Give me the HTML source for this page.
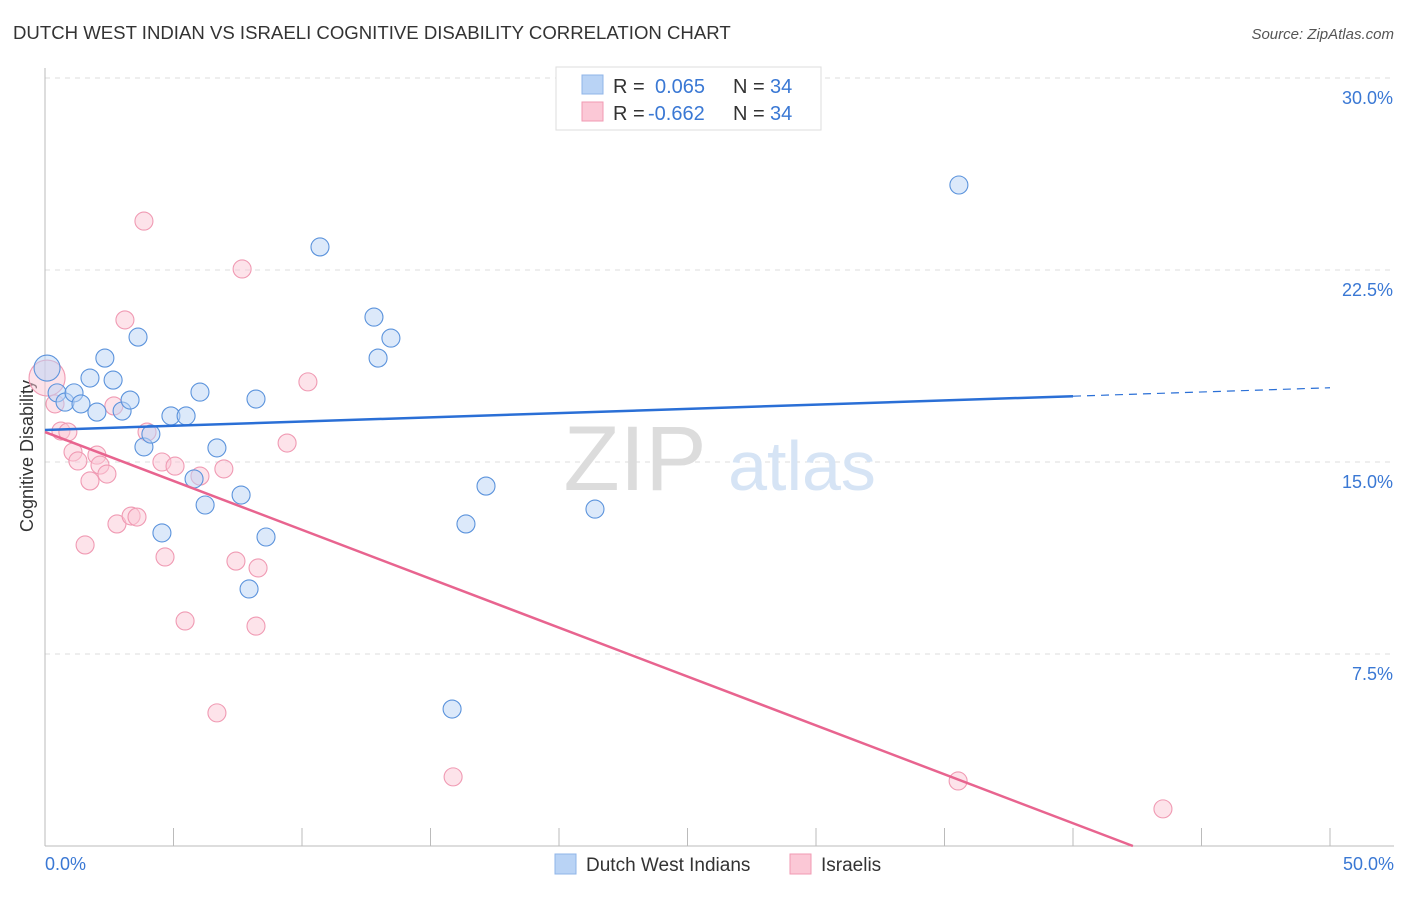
<!DOCTYPE html>
<html><head><meta charset="utf-8"><style>
body{margin:0;background:#fff;font-family:"Liberation Sans",sans-serif;}
svg text{font-family:"Liberation Sans",sans-serif;}
</style></head><body>
<svg id="chart" width="1406" height="892" viewBox="0 0 1406 892" xmlns="http://www.w3.org/2000/svg">
<text x="13" y="39" font-size="18.6" fill="#333">DUTCH WEST INDIAN VS ISRAELI COGNITIVE DISABILITY CORRELATION CHART</text>
<text x="1394" y="39" font-size="15" fill="#555" font-style="italic" text-anchor="end">Source: ZipAtlas.com</text>
<g id="grid"></g>
<g>
<text x="635" y="490" font-size="92" fill="#dcdcdc" font-family="Liberation Serif, serif" text-anchor="middle">ZIP</text>
<text x="802" y="490" font-size="70" fill="#d6e4f5" text-anchor="middle">atlas</text>
</g>
<text transform="translate(33,456) rotate(-90)" font-size="18" fill="#333" text-anchor="middle">Cognitive Disability</text>
<g id="marks"></g>
<g>
<rect x="556" y="67" width="265" height="63" fill="#fff" stroke="#ddd"/>
<rect x="582" y="75" width="21" height="19" fill="#b9d3f5" stroke="#8fb4e8"/>
<rect x="582" y="102" width="21" height="19" fill="#fbc8d6" stroke="#f09ab3"/>
<text x="613" y="93" font-size="20" fill="#333">R =</text><text x="655" y="93" font-size="20" fill="#3a78d4">0.065</text>
<text x="733" y="93" font-size="20" fill="#333">N =</text><text x="770" y="93" font-size="20" fill="#3a78d4">34</text>
<text x="613" y="120" font-size="20" fill="#333">R =</text><text x="648" y="120" font-size="20" fill="#3a78d4">-0.662</text>
<text x="733" y="120" font-size="20" fill="#333">N =</text><text x="770" y="120" font-size="20" fill="#3a78d4">34</text>
</g>
<g>
<rect x="555" y="854" width="21" height="20" fill="#b9d3f5" stroke="#8fb4e8"/>
<text x="586" y="871" font-size="19" fill="#333">Dutch West Indians</text>
<rect x="790" y="854" width="21" height="20" fill="#fbc8d6" stroke="#f09ab3"/>
<text x="821" y="871" font-size="19" fill="#333">Israelis</text>
</g>
</svg>
<script>
const yTicks=[7.5,15,22.5,30];
const yTickLabels=["7.5%","15.0%","22.5%","30.0%"];
const xTickLabels=["0.0%","50.0%"];
const blueX=[0.08,0.47,0.78,1.13,1.40,1.75,2.02,2.33,2.65,3.00,3.31,3.62,3.85,4.12,4.55,4.90,5.49,5.80,6.03,6.23,6.69,7.63,7.94,8.21,8.60,10.70,12.80,12.96,13.46,15.84,16.38,17.16,21.40,35.56];
const blueY=[18.67,17.70,17.34,17.70,17.27,18.28,16.95,19.06,18.20,16.99,17.42,19.88,15.59,16.09,12.23,16.80,16.80,14.34,17.73,13.32,15.55,13.71,10.04,17.46,12.07,23.40,20.66,19.06,19.84,5.35,12.58,14.06,13.16,25.82];
const pinkX=[0.08,0.39,0.62,0.89,1.09,1.28,1.75,1.56,2.02,2.14,2.41,2.68,2.80,3.11,3.35,3.58,3.85,3.97,4.55,4.67,5.06,5.45,6.03,6.69,6.96,7.43,7.67,8.21,8.29,9.42,10.23,15.88,35.53,43.50];
const pinkY=[18.28,17.27,16.21,16.17,15.39,15.04,14.26,11.76,15.27,14.88,14.53,17.19,12.58,20.55,12.89,12.85,24.41,16.17,15.0,11.29,14.84,8.79,14.45,5.20,14.73,11.13,22.54,8.59,10.86,15.74,18.13,2.70,2.54,1.45];
const blueTrend=[16.25,0.033];
const pinkTrend=[16.17,-0.382];
const NS="http://www.w3.org/2000/svg";
const xs=v=>45+v*25.7, ys=v=>846-v*25.6;
function mk(t,a,p){const e=document.createElementNS(NS,t);for(const k in a)e.setAttribute(k,a[k]);p.appendChild(e);return e;}
const g=document.getElementById('grid'), m=document.getElementById('marks');
yTicks.forEach((t,i)=>{
 const l=mk('line',{x1:45,x2:1394,y1:ys(t),y2:ys(t),stroke:'#ddd','stroke-dasharray':'5,5'},g);
 
 
 const tx=mk('text',{x:1393,y:ys(t)+26,'font-size':18,fill:'#3a78d4','text-anchor':'end'},g);tx.textContent=yTickLabels[i];
 
 
});
mk('line',{x1:45,x2:45,y1:68,y2:846,stroke:'#bbb'},g);
mk('line',{x1:45,x2:1394,y1:846,y2:846,stroke:'#bbb'},g);
for(let i=0;i<=10;i++){const t=mk('line',{x1:xs(i*5),x2:xs(i*5),y1:828,y2:846,stroke:'#bbb'},g);
 
 }
const xl0=mk('text',{x:45,y:870,'font-size':18,fill:'#3a78d4'},g);xl0.textContent=xTickLabels[0];


const xl1=mk('text',{x:1394,y:870,'font-size':18,fill:'#3a78d4','text-anchor':'end'},g);xl1.textContent=xTickLabels[1];


function dots(X,Y,fill,stroke,name){X.forEach((x,i)=>{
 const r=i===0?(name==='pink-point'?18:13):9;
 const c=mk('circle',{cx:xs(x),cy:ys(Y[i]),r:r,fill:fill,'fill-opacity':0.5,stroke:stroke,'stroke-width':1.1},m);
 
 
});}
dots(pinkX,pinkY,'#fbc8d6','#f09ab3','pink-point');
dots(blueX,blueY,'#b9d3f5','#5b93dc','blue-point');
const bl=mk('line',{x1:xs(0),y1:ys(blueTrend[0]),x2:xs(40),y2:ys(blueTrend[0]+40*blueTrend[1]),stroke:'#2a6fd6','stroke-width':2.5},m);


const bd=mk('line',{x1:xs(40),y1:ys(blueTrend[0]+40*blueTrend[1]),x2:xs(50),y2:ys(blueTrend[0]+50*blueTrend[1]),stroke:'#2a6fd6','stroke-width':1.2,'stroke-dasharray':'8,6'},m);


const xEnd=-pinkTrend[0]/pinkTrend[1];
const pl=mk('line',{x1:xs(0),y1:ys(pinkTrend[0]),x2:xs(xEnd),y2:ys(0),stroke:'#e8648f','stroke-width':2.5},m);


</script>
</body></html>
